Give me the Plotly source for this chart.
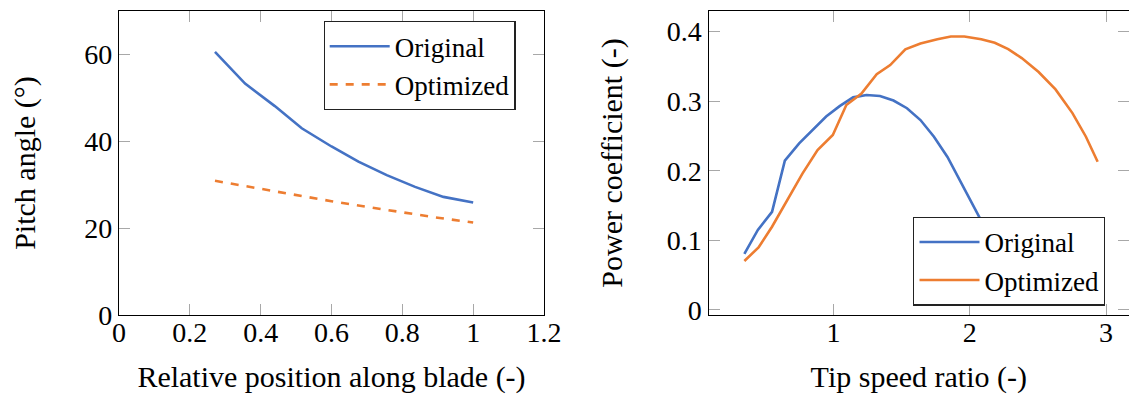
import plotly.graph_objects as go

# ---- Left panel data: pitch angle along blade ----
pos_orig = [0.271, 0.356, 0.44, 0.516, 0.60, 0.676, 0.756, 0.836, 0.916, 1.0]
pitch_orig = [60.6, 53.3, 48.1, 43.0, 38.8, 35.3, 32.2, 29.5, 27.2, 25.9]
pos_opt = [0.271, 0.40, 0.50, 0.60, 0.70, 0.80, 0.90, 1.0]
pitch_opt = [30.9, 29.0, 27.6, 26.2, 24.9, 23.6, 22.4, 21.3]

# ---- Right panel data: power coefficient vs tip speed ratio ----
tsr_orig = [0.346, 0.445, 0.549, 0.643, 0.748, 0.847, 0.946, 1.045, 1.144, 1.242,
            1.341, 1.44, 1.539, 1.638, 1.737, 1.836, 1.935, 2.034, 2.133, 2.232, 2.33]
cp_orig = [0.0805, 0.115, 0.141, 0.2146, 0.2395, 0.2587, 0.278, 0.293, 0.3056, 0.309,
           0.3076, 0.301, 0.29, 0.273, 0.249, 0.220, 0.184, 0.148, 0.11, 0.07, 0.029]
tsr_opt = [0.346, 0.45, 0.549, 0.649, 0.772, 0.883, 0.995, 1.094, 1.205, 1.317, 1.416,
           1.527, 1.638, 1.762, 1.861, 1.96, 2.084, 2.183, 2.282, 2.381, 2.505, 2.629,
           2.753, 2.852, 2.938]
cp_opt = [0.0704, 0.090, 0.1197, 0.153, 0.196, 0.23, 0.2515, 0.2946, 0.311, 0.339, 0.352,
          0.3747, 0.383, 0.389, 0.393, 0.393, 0.389, 0.384, 0.375, 0.362, 0.342, 0.317,
          0.283, 0.249, 0.213]

left_xticks = [0, 0.2, 0.4, 0.6, 0.8, 1, 1.2]
left_yticks = [0, 20, 40, 60]
right_xticks = [1, 2, 3]
right_yticks = [0, 0.1, 0.2, 0.3, 0.4]

BLUE = "#4472C4"
ORANGE = "#ED7D31"
FONT = "Liberation Serif"
TICKCOL = "#a8a8a8"

fig = go.Figure()

fig.add_trace(go.Scatter(x=pos_orig, y=pitch_orig, mode="lines", name="Original",
                         line=dict(color=BLUE, width=2.6), xaxis="x", yaxis="y",
                         legend="legend"))
fig.add_trace(go.Scatter(x=pos_opt, y=pitch_opt, mode="lines", name="Optimized",
                         line=dict(color=ORANGE, width=2.6, dash="8px,8px"),
                         xaxis="x", yaxis="y", legend="legend"))
fig.add_trace(go.Scatter(x=tsr_orig, y=cp_orig, mode="lines", name="Original",
                         line=dict(color=BLUE, width=2.6), xaxis="x2", yaxis="y2",
                         legend="legend2"))
fig.add_trace(go.Scatter(x=tsr_opt, y=cp_opt, mode="lines", name="Optimized",
                         line=dict(color=ORANGE, width=2.6), xaxis="x2", yaxis="y2",
                         legend="legend2"))

tickfont = dict(family=FONT, size=28, color="black")
titlefont = dict(family=FONT, size=30, color="black")
common = dict(ticks="inside", ticklen=11, tickwidth=1.4, tickcolor=TICKCOL,
              showgrid=False, zeroline=False, linecolor="black", linewidth=1.3,
              tickfont=tickfont, title_font=titlefont, automargin=False)

YDOM = [79 / 394, 383 / 394]
LEGFONT = dict(family=FONT, size=27, color="black")

fig.update_layout(
    template="none",
    width=1129, height=394, autosize=False,
    margin=dict(l=0, r=0, t=0, b=0, pad=0),
    paper_bgcolor="white", plot_bgcolor="white",
    showlegend=True,
    xaxis=dict(domain=[119 / 1129, 544 / 1129], range=[0, 1.2], tickvals=left_xticks,
               ticktext=["0", "0.2", "0.4", "0.6", "0.8", "1", "1.2"],
               showline=True, mirror="ticks", anchor="y", ticklabelstandoff=-8,
               title=dict(text="Relative position along blade (-)", standoff=22),
               **common),
    yaxis=dict(domain=YDOM, range=[0, 70], tickvals=left_yticks,
               showline=True, mirror="ticks", anchor="x",
               title=dict(text="Pitch angle (°)", standoff=39),
               **common),
    xaxis2=dict(domain=[708.6 / 1129, 1.0], range=[0.0836, 3.168], tickvals=right_xticks,
                showline=True, mirror="ticks", anchor="y2", ticklabelstandoff=-8,
                title=dict(text="Tip speed ratio (-)", standoff=22),
                **common),
    yaxis2=dict(domain=YDOM, range=[-0.0072, 0.4297], tickvals=right_yticks,
                ticktext=["0", "0.1", "0.2", "0.3", "0.4"],
                showline=True, mirror=False, anchor="x2",
                title=dict(text="Power coefficient (-)", standoff=35),
                **common),
    yaxis3=dict(domain=YDOM, range=[-0.0072, 0.4297], tickvals=right_yticks,
                overlaying="y2", side="right", anchor="x2", showticklabels=False,
                ticks="inside", ticklen=11, tickwidth=1.4, tickcolor=TICKCOL,
                showline=False, showgrid=False, zeroline=False, automargin=False),
    legend=dict(x=323.5 / 1129, y=1 - 21 / 394, xanchor="left", yanchor="top",
                bgcolor="white", bordercolor="#222", borderwidth=1.2,
                font=LEGFONT, itemwidth=60, tracegroupgap=0),
    legend2=dict(x=913.3 / 1129, y=(394 - 305.7) / 394, xanchor="left", yanchor="bottom",
                 bgcolor="white", bordercolor="#222", borderwidth=1.2,
                 font=LEGFONT, itemwidth=60, tracegroupgap=0),
)

# invisible trace so the mirrored right-hand tick axis is drawn
fig.add_trace(go.Scatter(x=[None], y=[None], xaxis="x2", yaxis="y3", showlegend=False,
                         hoverinfo="skip"))

fig.write_html("out.html", config={"displayModeBar": False},
               post_script="document.body.style.margin='0';"
                           "document.body.style.overflow='hidden';")
